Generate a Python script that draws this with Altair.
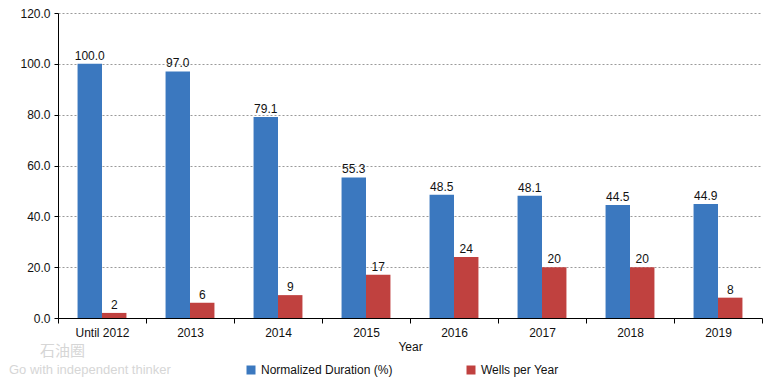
import altair as alt
import pandas as pd

years = ["Until 2012", "2013", "2014", "2015", "2016", "2017", "2018", "2019"]
duration = [100.0, 97.0, 79.1, 55.3, 48.5, 48.1, 44.5, 44.9]
wells = [2, 6, 9, 17, 24, 20, 20, 8]
series_names = ["Normalized Duration (%)", "Wells per Year"]
colors = ["#3b78bf", "#c0413f"]
y_ticks = [0, 20, 40, 60, 80, 100, 120]

rows = []
for yr, d, w in zip(years, duration, wells):
    rows.append({"Year": yr, "Series": series_names[0], "Value": d, "Label": f"{d:.1f}"})
    rows.append({"Year": yr, "Series": series_names[1], "Value": w, "Label": f"{w:d}"})
df = pd.DataFrame(rows)

FONT = "Liberation Sans"

x_enc = alt.X(
    "Year:N", sort=years, title="Year",
    scale=alt.Scale(paddingInner=0, paddingOuter=0),
    axis=alt.Axis(labelAngle=0, tickBand="extent", grid=False, domainColor="#000000",
                  tickColor="#000000", tickSize=5, labelPadding=4, labelFontSize=12,
                  labelColor="#111111", titleFontSize=12, titleFontWeight="normal",
                  titleColor="#111111", titlePadding=3, labelFont=FONT, titleFont=FONT),
)
xoff = alt.XOffset("Series:N", sort=series_names,
                   scale=alt.Scale(paddingInner=0, paddingOuter=0.8))
y_enc = alt.Y(
    "Value:Q", title=None,
    scale=alt.Scale(domain=[0, 120], nice=False),
    axis=alt.Axis(values=y_ticks, format=".1f", gridDash=[2, 2], gridColor="#9a9a9a",
                  domainColor="#000000", tickColor="#000000", tickSize=4, labelPadding=4,
                  labelFontSize=12, labelColor="#111111", labelFont=FONT),
)

base = alt.Chart(df)
bars = base.mark_bar().encode(
    x=x_enc, xOffset=xoff, y=y_enc,
    color=alt.Color("Series:N", scale=alt.Scale(domain=series_names, range=colors),
                    legend=alt.Legend(title=None, orient="none", legendX=187, legendY=351,
                                      direction="horizontal", symbolType="square",
                                      symbolSize=81, symbolStrokeWidth=0, labelFontSize=12,
                                      labelFont=FONT, labelColor="#111111",
                                      columnPadding=72)),
)
labels = base.mark_text(dy=-8, fontSize=12, font=FONT, color="#111111").encode(
    x=alt.X("Year:N", sort=years), xOffset=alt.XOffset("Series:N", sort=series_names),
    y="Value:Q", text="Label:N",
)

wm = pd.DataFrame({"a": [1]})
wm1 = alt.Chart(wm).mark_text(align="left", baseline="middle", fontSize=15,
                              font="Noto Sans CJK SC", color="#d6d6d6").encode(
    x=alt.value(-18), y=alt.value(338), text=alt.value("石油圈"))
wm2 = alt.Chart(wm).mark_text(align="left", baseline="middle", fontSize=13,
                              font=FONT, color="#d6d6d6").encode(
    x=alt.value(-49), y=alt.value(357), text=alt.value("Go with independent thinker"))

chart = alt.layer(bars, labels, wm1, wm2).properties(
    width=704, height=305,
    autosize=alt.AutoSizeParams(type="none"),
    padding={"left": 50, "top": 5, "right": 5, "bottom": 60},
).configure_view(stroke=None)

chart.save("out.html", embed_options={"renderer": "svg", "actions": False})
